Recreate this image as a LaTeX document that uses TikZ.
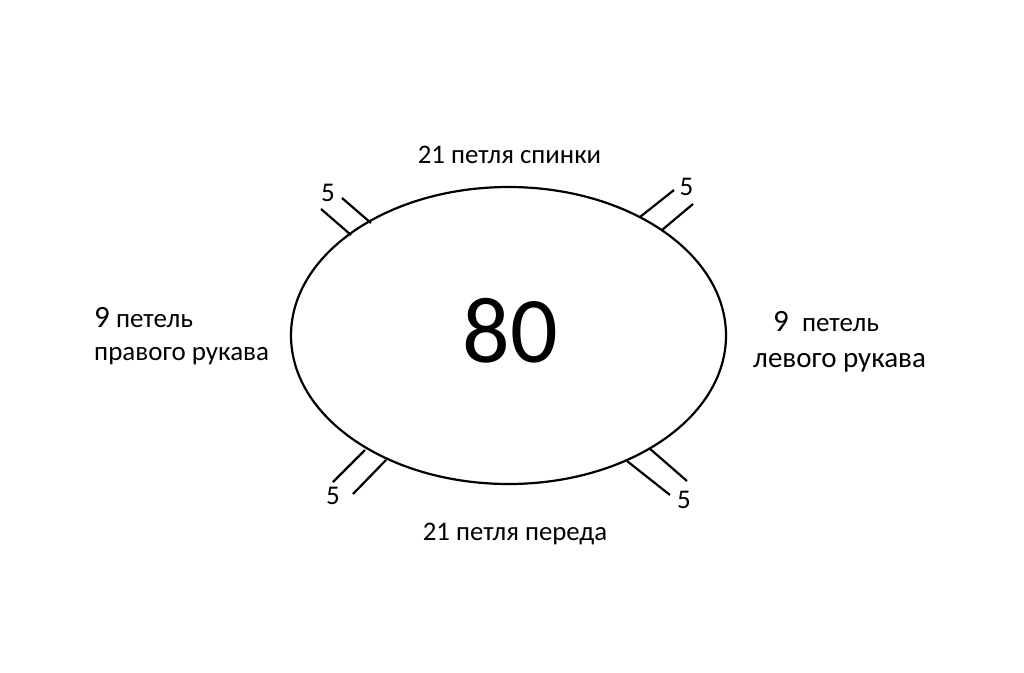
\documentclass[tikz,border=0pt]{standalone}
\usepackage{fontspec}
\setmainfont{Carlito}
\usetikzlibrary{calc}

\begin{document}
\begin{tikzpicture}[x=1pt, y=-1pt,
    lbl/.style={inner sep=0pt, anchor=base, font=\fontsize{26.8}{30}\selectfont},
    cnt/.style={inner sep=0pt, anchor=base, font=\fontsize{27}{30}\selectfont},
    sleeve/.style={inner sep=0pt, align=left, anchor=north west}]
      \useasboundingbox (0,0) rectangle (1024,672);
      \draw[line width=2.2pt] (508.5,335.5) ellipse [x radius=217.5, y radius=148.5];
      \node[inner sep=0pt, anchor=base, font=\fontsize{94}{100}\selectfont] (total) at (510,362) {80};

      \node[lbl] (back) at (509.5,163) {21 петля спинки};
      \node[lbl] (front) at (515,540) {21 петля переда};
      \node[sleeve, font=\fontsize{27}{33}\selectfont] (right) at (94,307.5) {{\fontsize{31}{33}\selectfont 9} петель\\правого рукава};
      \node[sleeve, font=\fontsize{29}{36}\selectfont] (left) at (753,311) {\hspace*{20pt}{\fontsize{31}{36}\selectfont 9}\ \ {\fontsize{27}{36}\selectfont петель}\\левого рукава};

      \node[cnt] (tl) at (328,201) {5};
      \node[cnt] (tr) at (686.5,195) {5};
      \node[cnt] (bl) at (333,504) {5};
      \node[cnt] (br) at (684,508) {5};

      \draw[line width=2.2pt] (321,209) -- (351,235) (342,198) -- (371,223);
      \draw[line width=2.2pt] (640,217) -- (674,190) (662,230) -- (693,204);
      \draw[line width=2.2pt] (365,450) -- (333,482) (386,460) -- (353,494);
      \draw[line width=2.2pt] (627,461) -- (670,495) (649,448) -- (687,481);
    \end{tikzpicture}
\end{document}
